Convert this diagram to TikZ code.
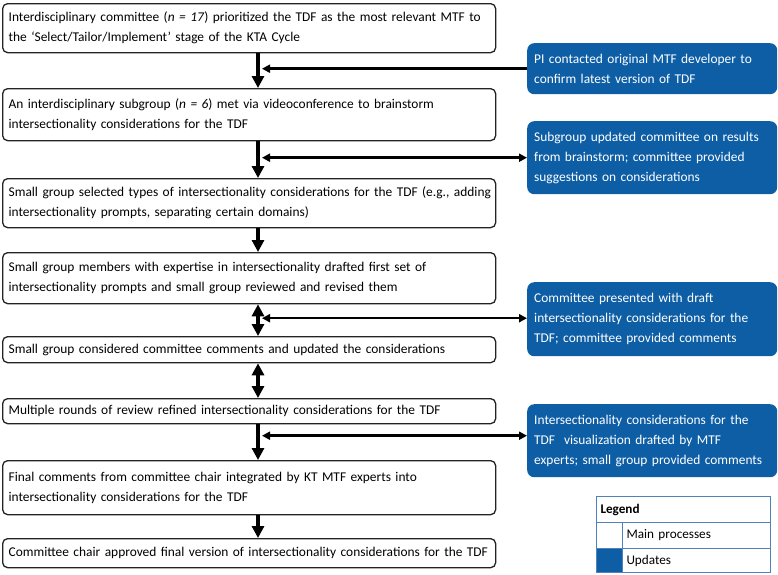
\documentclass[tikz,border=0pt]{standalone}
\usepackage{fontspec}
\setmainfont{Carlito}
\usetikzlibrary{arrows.meta,calc}
\definecolor{upblue}{RGB}{14,94,166}
\definecolor{legline}{RGB}{79,129,189}
\definecolor{boxline}{RGB}{35,35,35}
\begin{document}
\begin{tikzpicture}[x=1pt,y=-1pt,
  mainbox/.style={draw=boxline,line width=1.3pt,rounded corners=5pt,fill=white,anchor=north west,
    text width=481pt,inner xsep=6pt,inner ysep=0pt,align=left,font=\fontsize{13.4}{20}\selectfont},
  updbox/.style={fill=upblue,text=white,rounded corners=7pt,anchor=north west,
    text width=236pt,minimum width=250pt,inner xsep=7pt,inner ysep=0pt,align=left,font=\fontsize{13.4}{20}\selectfont},
  mainarrow/.style={line width=4pt,-{Triangle[width=12pt,length=12pt]}},
  dblarrow/.style={line width=4pt,{Triangle[width=12pt,length=12pt]}-{Triangle[width=12pt,length=12pt]}},
  sidearrow/.style={line width=2.5pt,-{Triangle[width=8pt,length=8pt]}},
  sidedbl/.style={line width=2.5pt,{Triangle[width=8pt,length=8pt]}-{Triangle[width=8pt,length=8pt]}},
  legcell/.style={draw=legline,line width=1pt,anchor=north west,inner xsep=4pt,inner ysep=0pt,align=left,font=\fontsize{13.2}{16}\selectfont}
]
\useasboundingbox (0,0) rectangle (778,574);
\coordinate (sp) at (258,0);
\coordinate (spr) at (262,0);

\node[mainbox,minimum height=49pt] (b1) at (2,3) {Interdisciplinary committee (\textit{n = 17}) prioritized the TDF as the most relevant MTF to\\the ‘Select/Tailor/Implement’ stage of the KTA Cycle};
\node[mainbox,minimum height=52pt] (b2) at (2,88) {An interdisciplinary subgroup (\textit{n = 6}) met via videoconference to brainstorm\\intersectionality considerations for the TDF};
\node[mainbox,minimum height=49pt] (b3) at (2,178) {\mbox{Small group selected types of intersectionality considerations for the TDF (e.g., adding}\\intersectionality prompts, separating certain domains)};
\node[mainbox,minimum height=51pt] (b4) at (2,252) {Small group members with expertise in intersectionality drafted first set of\\intersectionality prompts and small group reviewed and revised them};
\node[mainbox,minimum height=26pt] (b5) at (2,336) {Small group considered committee comments and updated the considerations};
\node[mainbox,minimum height=25pt] (b6) at (2,398) {Multiple rounds of review refined intersectionality considerations for the TDF};
\node[mainbox,minimum height=54pt] (b7) at (2,460) {Final comments from committee chair integrated by KT MTF experts into\\intersectionality considerations for the TDF};
\node[mainbox,minimum height=29pt] (b8) at (2,538) {Committee chair approved final version of intersectionality considerations for the TDF};

\node[updbox,minimum height=51pt] (u1) at (527,43) {PI contacted original MTF developer to\\confirm latest version of TDF};
\node[updbox,minimum height=73pt] (u2) at (527,121) {Subgroup updated committee on results\\from brainstorm; committee provided\\suggestions on considerations};
\node[updbox,minimum height=74pt] (u3) at (527,282) {Committee presented with draft\\intersectionality considerations for the\\TDF; committee provided comments};
\node[updbox,minimum height=73pt] (u4) at (527,404) {Intersectionality considerations for the\\TDF\ \ visualization drafted by MTF\\experts; small group provided comments};

\draw[mainarrow] (b1.south -| sp) -- (b2.north -| sp);
\draw[mainarrow] (b2.south -| sp) -- (b3.north -| sp);
\draw[mainarrow] (b3.south -| sp) -- (b4.north -| sp);
\draw[dblarrow] (b4.south -| sp) -- (b5.north -| sp);
\draw[dblarrow] (b5.south -| sp) -- (b6.north -| sp);
\draw[mainarrow] (b6.south -| sp) -- (b7.north -| sp);
\draw[mainarrow] (b7.south -| sp) -- (b8.north -| sp);

\draw[sidearrow] (u1.west) -- (u1.west -| spr);
\draw[sidedbl] (u2.west -| spr) -- (u2.west);
\draw[sidedbl] ($(u3.west -| spr)+(0,-1)$) -- ($(u3.west)+(0,-1)$);
\draw[sidedbl] ($(u4.west -| spr)+(0,-5)$) -- ($(u4.west)+(0,-5)$);

\node[legcell,text width=166pt,minimum height=26pt] (lh) at (596,496) {\textbf{Legend}};
\node[legcell,minimum width=26pt,minimum height=26pt] (lc1) at (596,522) {};
\node[legcell,text width=140pt,minimum height=26pt] (lt1) at (622,522) {Main processes};
\node[legcell,fill=upblue,minimum width=26pt,minimum height=24pt] (lc2) at (596,548) {};
\node[legcell,text width=140pt,minimum height=24pt] (lt2) at (622,548) {Updates};
\end{tikzpicture}
\end{document}
